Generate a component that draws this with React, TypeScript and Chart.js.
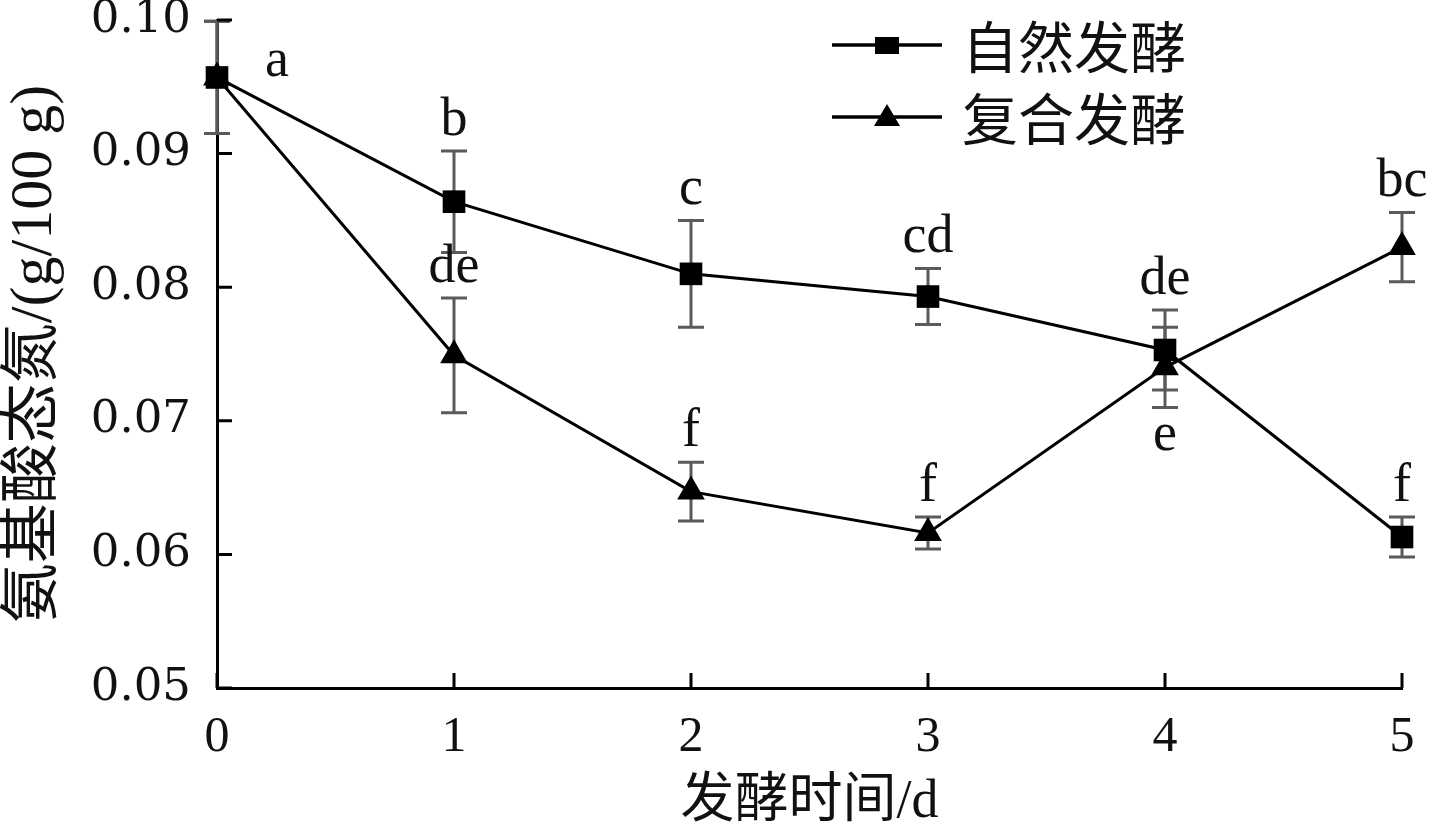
import React, { useEffect, useRef } from 'react';
import { Chart, registerables } from 'chart.js';

Chart.register(...registerables);

const days = ['0', '1', '2', '3', '4', '5'];

const naturalName = '自然发酵';
const naturalMeans = [0.0957, 0.0864, 0.081, 0.0793, 0.0753, 0.0613];
const naturalErrors = [0.0042, 0.0038, 0.004, 0.0021, 0.003, 0.0015];
const naturalLetters = ['a', 'b', 'c', 'cd', 'de', 'f'];
const naturalLetterPlacement = ['right', 'above', 'above', 'above', 'above', 'above'];

const compoundName = '复合发酵';
const compoundMeans = [0.0957, 0.0749, 0.0647, 0.0616, 0.074, 0.083];
const compoundErrors = [0.0042, 0.0043, 0.0022, 0.0012, 0.003, 0.0026];
const compoundLetters = ['', 'de', 'f', 'f', 'e', 'bc'];
const compoundLetterPlacement = ['none', 'above', 'above', 'above', 'below', 'above'];

const yMin = 0.05;
const yMax = 0.1;
const yStep = 0.01;

const xTitle = '发酵时间/d';
const yTitle = '氨基酸态氮/(g/100 g)';

const CJK = '"Noto Sans CJK SC"';
const SERIF = '"Liberation Serif"';

const errorBarPlugin = {
  id: 'errorBars',
  beforeDatasetsDraw(chart: any) {
    const ctx = chart.ctx;
    const yScale = chart.scales.y;
    chart.data.datasets.forEach((ds: any, i: number) => {
      const meta = chart.getDatasetMeta(i);
      const errs: number[] = ds.errors || [];
      meta.data.forEach((pt: any, j: number) => {
        const v = ds.data[j];
        const e = errs[j];
        if (e == null) return;
        const x = pt.x;
        const yt = yScale.getPixelForValue(v + e);
        const yb = yScale.getPixelForValue(v - e);
        ctx.save();
        ctx.strokeStyle = '#5a5a5a';
        ctx.lineWidth = 3;
        ctx.beginPath();
        ctx.moveTo(x, yt);
        ctx.lineTo(x, yb);
        ctx.moveTo(x - 13, yt);
        ctx.lineTo(x + 13, yt);
        ctx.moveTo(x - 13, yb);
        ctx.lineTo(x + 13, yb);
        ctx.stroke();
        ctx.restore();
      });
    });
  },
};

const lettersPlugin = {
  id: 'letters',
  afterDatasetsDraw(chart: any) {
    const ctx = chart.ctx;
    const yScale = chart.scales.y;
    chart.data.datasets.forEach((ds: any, i: number) => {
      const meta = chart.getDatasetMeta(i);
      const letters: string[] = ds.letters || [];
      const places: string[] = ds.letterPlacement || [];
      meta.data.forEach((pt: any, j: number) => {
        const text = letters[j];
        const place = places[j];
        if (!text || place === 'none') return;
        const v = ds.data[j];
        const e = ds.errors[j];
        ctx.save();
        ctx.fillStyle = '#111';
        ctx.font = `54px ${SERIF}`;
        ctx.textBaseline = 'alphabetic';
        ctx.textAlign = 'center';
        if (place === 'above') {
          ctx.fillText(text, pt.x, yScale.getPixelForValue(v + e) - 16);
        } else if (place === 'below') {
          ctx.fillText(text, pt.x, yScale.getPixelForValue(v - e) + 43);
        } else if (place === 'right') {
          ctx.fillText(text, pt.x + 60, pt.y - 1);
        }
        ctx.restore();
      });
    });
  },
};

const innerTicksPlugin = {
  id: 'innerTicks',
  afterDraw(chart: any) {
    const ctx = chart.ctx;
    const { left, bottom } = chart.chartArea;
    const xs = chart.scales.x;
    const ys = chart.scales.y;
    ctx.save();
    ctx.strokeStyle = '#000';
    ctx.lineWidth = 3;
    ctx.beginPath();
    ys.ticks.forEach((t: any) => {
      const y = ys.getPixelForValue(t.value);
      ctx.moveTo(left, y);
      ctx.lineTo(left + 15, y);
    });
    days.forEach((_d, i) => {
      const x = xs.getPixelForValue(i);
      ctx.moveTo(x, bottom);
      ctx.lineTo(x, bottom - 15);
    });
    ctx.stroke();
    ctx.restore();
  },
};

const legendPlugin = {
  id: 'customLegend',
  afterDraw(chart: any) {
    const ctx = chart.ctx;
    const items = [
      { name: naturalName, style: 'rect' },
      { name: compoundName, style: 'triangle' },
    ];
    const x0 = 832;
    const x1 = 942;
    const ys = [45, 117];
    items.forEach((it, k) => {
      const y = ys[k];
      ctx.save();
      ctx.strokeStyle = '#000';
      ctx.lineWidth = 3.5;
      ctx.beginPath();
      ctx.moveTo(x0, y);
      ctx.lineTo(x1, y);
      ctx.stroke();
      ctx.fillStyle = '#000';
      const cx = (x0 + x1) / 2;
      if (it.style === 'rect') {
        ctx.fillRect(cx - 12, y - 8, 24, 17);
      } else {
        ctx.beginPath();
        ctx.moveTo(cx, y - 13);
        ctx.lineTo(cx + 13, y + 9);
        ctx.lineTo(cx - 13, y + 9);
        ctx.closePath();
        ctx.fill();
      }
      ctx.font = `56px ${CJK}`;
      ctx.textBaseline = 'middle';
      ctx.textAlign = 'left';
      ctx.fillStyle = '#111';
      ctx.fillText(it.name, 962, y + 2);
      ctx.restore();
    });
  },
};

export default function App() {
  const canvasRef = useRef<HTMLCanvasElement | null>(null);

  useEffect(() => {
    document.body.style.margin = '0';
    const canvas = canvasRef.current;
    if (!canvas) return;
    const chart = new Chart(canvas, {
      type: 'line',
      data: {
        labels: days,
        datasets: [
          {
            label: naturalName,
            data: naturalMeans,
            errors: naturalErrors,
            letters: naturalLetters,
            letterPlacement: naturalLetterPlacement,
            borderColor: '#000',
            backgroundColor: '#000',
            borderWidth: 3,
            pointStyle: 'rect',
            pointRadius: 16,
            pointBorderWidth: 0,
            pointBackgroundColor: '#000',
            tension: 0,
          } as any,
          {
            label: compoundName,
            data: compoundMeans,
            errors: compoundErrors,
            letters: compoundLetters,
            letterPlacement: compoundLetterPlacement,
            borderColor: '#000',
            backgroundColor: '#000',
            borderWidth: 3,
            pointStyle: 'triangle',
            pointRadius: 16,
            pointBorderWidth: 0,
            pointBackgroundColor: '#000',
            tension: 0,
          } as any,
        ],
      },
      options: {
        animation: false,
        responsive: true,
        maintainAspectRatio: false,
        layout: { padding: { top: 20, right: 29, left: 0, bottom: 0 } },
        plugins: {
          legend: { display: false },
          tooltip: { enabled: false },
        },
        scales: {
          x: {
            type: 'category',
            offset: false,
            grid: { display: false, drawTicks: false },
            border: { display: true, color: '#000', width: 3 },
            ticks: {
              color: '#111',
              font: { family: SERIF, size: 50 },
              padding: 20,
              maxRotation: 0,
              autoSkip: false,
            },
            title: {
              display: true,
              text: xTitle,
              color: '#111',
              font: { family: `${SERIF}, ${CJK}`, size: 54, lineHeight: 1.0 },
              padding: { top: 0, bottom: 0 },
            },
            afterFit: (s: any) => {
              s.height = 142;
              s.paddingLeft = 0;
              s.paddingRight = 0;
            },
          },
          y: {
            type: 'linear',
            min: yMin,
            max: yMax,
            grid: { display: false, drawTicks: false },
            border: { display: true, color: '#000', width: 3 },
            ticks: {
              stepSize: yStep,
              color: '#111',
              font: { family: '"DejaVu Serif"', size: 45 },
              padding: 26,
              callback: (v: any) => Number(v).toFixed(2),
            },
            title: {
              display: true,
              text: yTitle,
              color: '#111',
              font: { family: `${SERIF}, ${CJK}`, size: 60, lineHeight: 1.15 },
              padding: { top: 1, bottom: 0 },
            },
            afterFit: (s: any) => {
              s.width = 217;
              s.paddingTop = 0;
              s.paddingBottom = 0;
            },
          },
        },
      } as any,
      plugins: [errorBarPlugin, lettersPlugin, innerTicksPlugin, legendPlugin],
    });
    return () => chart.destroy();
  }, []);

  return (
    <div style={{ position: 'relative', width: '1431px', height: '830px', background: '#fff' }}>
      <canvas ref={canvasRef} />
    </div>
  );
}
